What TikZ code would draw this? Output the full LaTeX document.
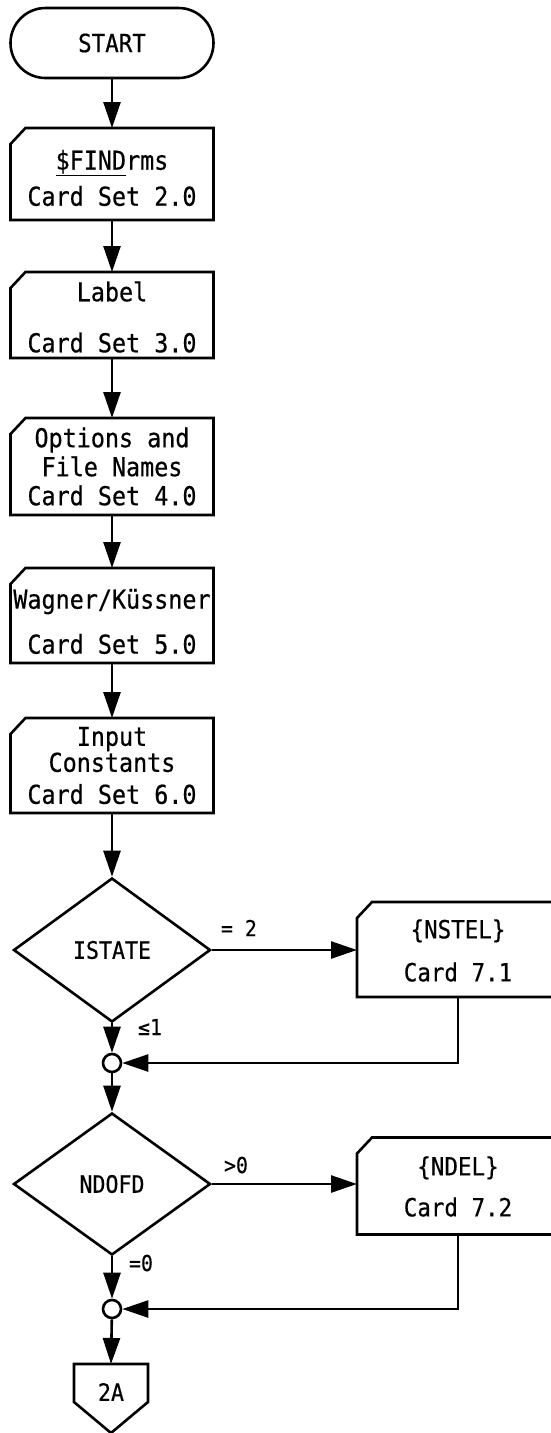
\documentclass[tikz,border=0pt]{standalone}
\usepackage{fontspec}
\newfontfamily\flowfont[FakeStretch=0.9,FakeBold=0.5]{DejaVu Sans Mono}
\usetikzlibrary{shapes.geometric,shapes.misc,arrows.meta}
\newcommand\dnline[2]{\raisebox{-#1}[\height][\depth]{#2}}
\begin{document}
\begin{tikzpicture}[x=1pt,y=-1pt,
  ln/.style={line width=2.6pt, line join=miter},
  flow/.style={ln, -{Triangle[length=26pt,width=17pt]}},
  card/.style={rectangle, minimum width=203pt, inner sep=0pt, outer sep=0pt, align=center,
    font={\flowfont\fontsize{26pt}{30pt}\selectfont}},
  wcard/.style={card, minimum width=202pt, font={\flowfont\fontsize{25pt}{30pt}\selectfont}},
  term/.style={rounded rectangle, draw, ln, minimum width=203pt, minimum height=70pt,
    inner sep=0pt, font={\flowfont\fontsize{25pt}{30pt}\selectfont}},
  decision/.style={diamond, draw, ln, minimum width=197pt, minimum height=144pt, inner sep=0pt,
    font={\flowfont\fontsize{24pt}{28pt}\selectfont}},
  junction/.style={circle, draw, fill=white, ln, minimum size=18pt, inner sep=0pt},
  lbl/.style={inner sep=0pt, font={\flowfont\fontsize{22pt}{24pt}\selectfont}},
  offpage/.style={rectangle, minimum width=74pt, minimum height=56pt, inner sep=0pt, outer sep=0pt,
    font={\flowfont\fontsize{24pt}{26pt}\selectfont}}
]
\useasboundingbox (0,0) rectangle (551,1433);
\fill[white] (0,0) rectangle (551,1433);
\clip (0,0) rectangle (551,1433);

% nodes
\node[term] (start) at (112,43) {START};
\node[card, minimum height=92pt] (c1) at (112,174)
  {\dnline{4pt}{\underline{\$FIND}rms}\\[6pt]\dnline{4pt}{Card Set 2.0}};
\node[card, minimum height=86pt] (c2) at (112,315)
  {\dnline{2pt}{Label}\\[21pt]\dnline{2pt}{Card Set 3.0}};
\node[card, minimum height=97pt] (c3) at (112,466.5)
  {Options and\\[-1pt]File Names\\[-1pt]Card Set 4.0};
\node[card, minimum height=95pt] (c4) at (112,615.5)
  {\dnline{6pt}{Wagner/Küssner}\\[15pt]\dnline{6pt}{Card Set 5.0}};
\node[card, minimum height=95pt] (c5) at (112,765.5)
  {Input\\[-4pt]Constants\\[2pt]Card Set 6.0};
\node[decision] (d1) at (112,950) {ISTATE};
\node[wcard, minimum height=95pt] (b1) at (458,949.5)
  {\dnline{1pt}{\{NSTEL\}}\\[13pt]\dnline{1pt}{Card 7.1}};
\node[junction] (j1) at (112,1063) {};
\node[decision, minimum height=142pt] (d2) at (112,1184) {NDOFD};
\node[wcard, minimum height=97pt] (b2) at (458,1186)
  {\dnline{1pt}{\{NDEL\}}\\[12pt]Card 7.2};
\node[junction] (j2) at (112,1309) {};
\node[offpage] (off) at (111,1392) {2A};

% labels
\node[lbl] (l1) at (239,928) {= 2};
\node[lbl] (l2) at (150,1027) {≤1};
\node[lbl] (l3) at (236,1165) {>0};
\node[lbl] (l4) at (141,1263) {=0};

% card outlines (cut top-left corner)
\foreach \n in {c1,c2,c3,c4,c5,b1,b2}
  \draw[ln] ([yshift=-16pt]\n.north west) -- ([xshift=15pt]\n.north west)
     -- (\n.north east) -- (\n.south east) -- (\n.south west) -- cycle;

% off-page connector outline
\draw[ln] (off.north west) -- (off.north east) -- ([yshift=18pt]off.south east)
   -- ([yshift=-13pt]off.south) -- ([yshift=18pt]off.south west) -- cycle;

% connectors
\draw[flow] (start) -- (c1);
\draw[flow] (c1) -- (c2);
\draw[flow] (c2) -- (c3);
\draw[flow] (c3) -- (c4);
\draw[flow] (c4) -- (c5);
\draw[flow] (c5) -- (d1);
\draw[flow] (d1.east) -- (d1.east -| b1.west);
\draw[flow] (d1.south) -- (j1);
\draw[flow] (b1.south) |- (j1.east);
\draw[flow] (j1) -- (d2);
\draw[flow] (d2.east) -- (d2.east -| b2.west);
\draw[flow] (d2.south) -- (j2);
\draw[flow] (b2.south) |- (j2.east);
\draw[flow] (j2) -- (off.north);
\end{tikzpicture}
\end{document}
